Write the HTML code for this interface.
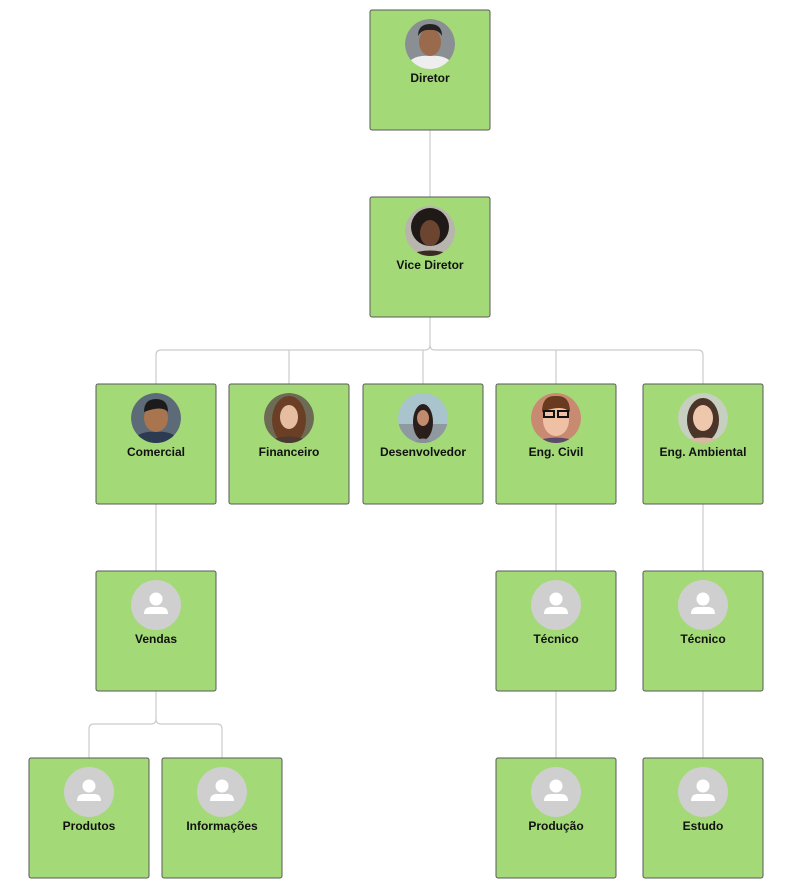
<!DOCTYPE html>
<html><head><meta charset="utf-8"><style>
html,body{margin:0;padding:0;background:#fff;}
svg{display:block}
text{font-family:"Liberation Sans",Arial,sans-serif;font-weight:bold;font-size:12px;fill:#111;text-anchor:middle}
</style></head><body>
<svg width="808" height="893" viewBox="0 0 808 893" xmlns="http://www.w3.org/2000/svg">
<defs>
<g id="ph">
<circle r="25" fill="#cfcfcf"/>
<circle cx="0" cy="-6" r="6.5" fill="#fff"/>
<path d="M-12,9 Q-12,2 -5,2 L5,2 Q12,2 12,9 Z" fill="#fff"/>
</g>
<clipPath id="cc"><circle r="25"/></clipPath>
</defs>
<g fill="none" stroke="#cccccc" stroke-width="1.2">
<path d="M430,130 V197"/>
<path d="M430,317 V345 Q430,350 425,350 H161 Q156,350 156,355 V384"/>
<path d="M430,345 Q430,350 435,350 H698 Q703,350 703,355 V384"/>
<path d="M289,350 V384 M423,350 V384 M556,350 V384"/>
<path d="M156,504 V571"/>
<path d="M556,504 V571 M556,691 V758"/>
<path d="M703,504 V571 M703,691 V758"/>
<path d="M156,691 V719 Q156,724 151,724 H94 Q89,724 89,729 V758"/>
<path d="M156,719 Q156,724 161,724 H217 Q222,724 222,729 V758"/>
</g>
<g fill="#a3d977" stroke="#5a5a5a" stroke-width="1">
<rect x="370" y="10" width="120" height="120" rx="2"/>
<rect x="370" y="197" width="120" height="120" rx="2"/>
<rect x="96" y="384" width="120" height="120" rx="2"/>
<rect x="229" y="384" width="120" height="120" rx="2"/>
<rect x="363" y="384" width="120" height="120" rx="2"/>
<rect x="496" y="384" width="120" height="120" rx="2"/>
<rect x="643" y="384" width="120" height="120" rx="2"/>
<rect x="96" y="571" width="120" height="120" rx="2"/>
<rect x="496" y="571" width="120" height="120" rx="2"/>
<rect x="643" y="571" width="120" height="120" rx="2"/>
<rect x="29" y="758" width="120" height="120" rx="2"/>
<rect x="162" y="758" width="120" height="120" rx="2"/>
<rect x="496" y="758" width="120" height="120" rx="2"/>
<rect x="643" y="758" width="120" height="120" rx="2"/>
</g>
<!-- photos -->
<g transform="translate(430,44)" clip-path="url(#cc)"><circle r="25" fill="#8a8f94"/><path d="M-25,25 Q-20,10 0,12 Q20,10 25,25Z" fill="#eee"/><ellipse cy="-2" rx="11" ry="14" fill="#9a6a4c"/><path d="M-12,-8 Q-12,-20 0,-20 Q12,-20 12,-8 Q8,-15 0,-14 Q-8,-15 -12,-8Z" fill="#222"/></g>
<g transform="translate(430,231)" clip-path="url(#cc)"><circle r="25" fill="#b8b4ae"/><circle cy="-4" r="19" fill="#1f1a17"/><ellipse cy="2" rx="10" ry="13" fill="#6b4530"/><path d="M-25,25 Q0,14 25,25Z" fill="#3a2a22"/></g>
<g transform="translate(156,418)" clip-path="url(#cc)"><circle r="25" fill="#5d6b78"/><path d="M-25,25 Q-18,12 0,14 Q18,12 25,25Z" fill="#2c3a52"/><ellipse cy="0" rx="12" ry="14" fill="#a8754f"/><path d="M-12,-6 Q-12,-19 0,-19 Q12,-19 12,-6 Q6,-13 -12,-6Z" fill="#1b1b1b"/></g>
<g transform="translate(289,418)" clip-path="url(#cc)"><circle r="25" fill="#6d6a55"/><ellipse cy="2" rx="17" ry="24" fill="#6b3f25"/><ellipse cy="-1" rx="9" ry="12" fill="#e6bda0"/><path d="M-25,25 Q0,12 25,25Z" fill="#4a3a30"/></g>
<g transform="translate(423,418)" clip-path="url(#cc)"><circle r="25" fill="#a9c4cc"/><rect x="-25" y="6" width="50" height="20" fill="#8e9aa0"/><ellipse cy="4" rx="10" ry="18" fill="#2a1e1a"/><ellipse cy="0" rx="6" ry="8" fill="#c08b6e"/><path d="M-10,25 Q0,16 10,25Z" fill="#8a8f96"/></g>
<g transform="translate(556,418)" clip-path="url(#cc)"><circle r="25" fill="#c98a72"/><ellipse cy="2" rx="13" ry="16" fill="#f0c0a5"/><path d="M-14,-6 Q-14,-23 0,-22 Q14,-23 14,-6 Q6,-14 -14,-6Z" fill="#6a3a1e"/><rect x="-12" y="-7" width="10" height="6" fill="none" stroke="#111" stroke-width="2"/><rect x="2" y="-7" width="10" height="6" fill="none" stroke="#111" stroke-width="2"/><path d="M-25,25 Q0,14 25,25Z" fill="#5a4b6a"/></g>
<g transform="translate(703,418)" clip-path="url(#cc)"><circle r="25" fill="#c6cfc0"/><ellipse cy="2" rx="16" ry="22" fill="#4a3528"/><ellipse cy="0" rx="10" ry="13" fill="#efc7ad"/><path d="M-25,25 Q0,14 25,25Z" fill="#d9b9a4"/></g>
<use href="#ph" x="156" y="605"/>
<use href="#ph" x="556" y="605"/>
<use href="#ph" x="703" y="605"/>
<use href="#ph" x="89" y="792"/>
<use href="#ph" x="222" y="792"/>
<use href="#ph" x="556" y="792"/>
<use href="#ph" x="703" y="792"/>
<text x="430" y="82">Diretor</text>
<text x="430" y="269">Vice Diretor</text>
<text x="156" y="456">Comercial</text>
<text x="289" y="456">Financeiro</text>
<text x="423" y="456">Desenvolvedor</text>
<text x="556" y="456">Eng. Civil</text>
<text x="703" y="456">Eng. Ambiental</text>
<text x="156" y="643">Vendas</text>
<text x="556" y="643">Técnico</text>
<text x="703" y="643">Técnico</text>
<text x="89" y="830">Produtos</text>
<text x="222" y="830">Informações</text>
<text x="556" y="830">Produção</text>
<text x="703" y="830">Estudo</text>
</svg>
</body></html>
